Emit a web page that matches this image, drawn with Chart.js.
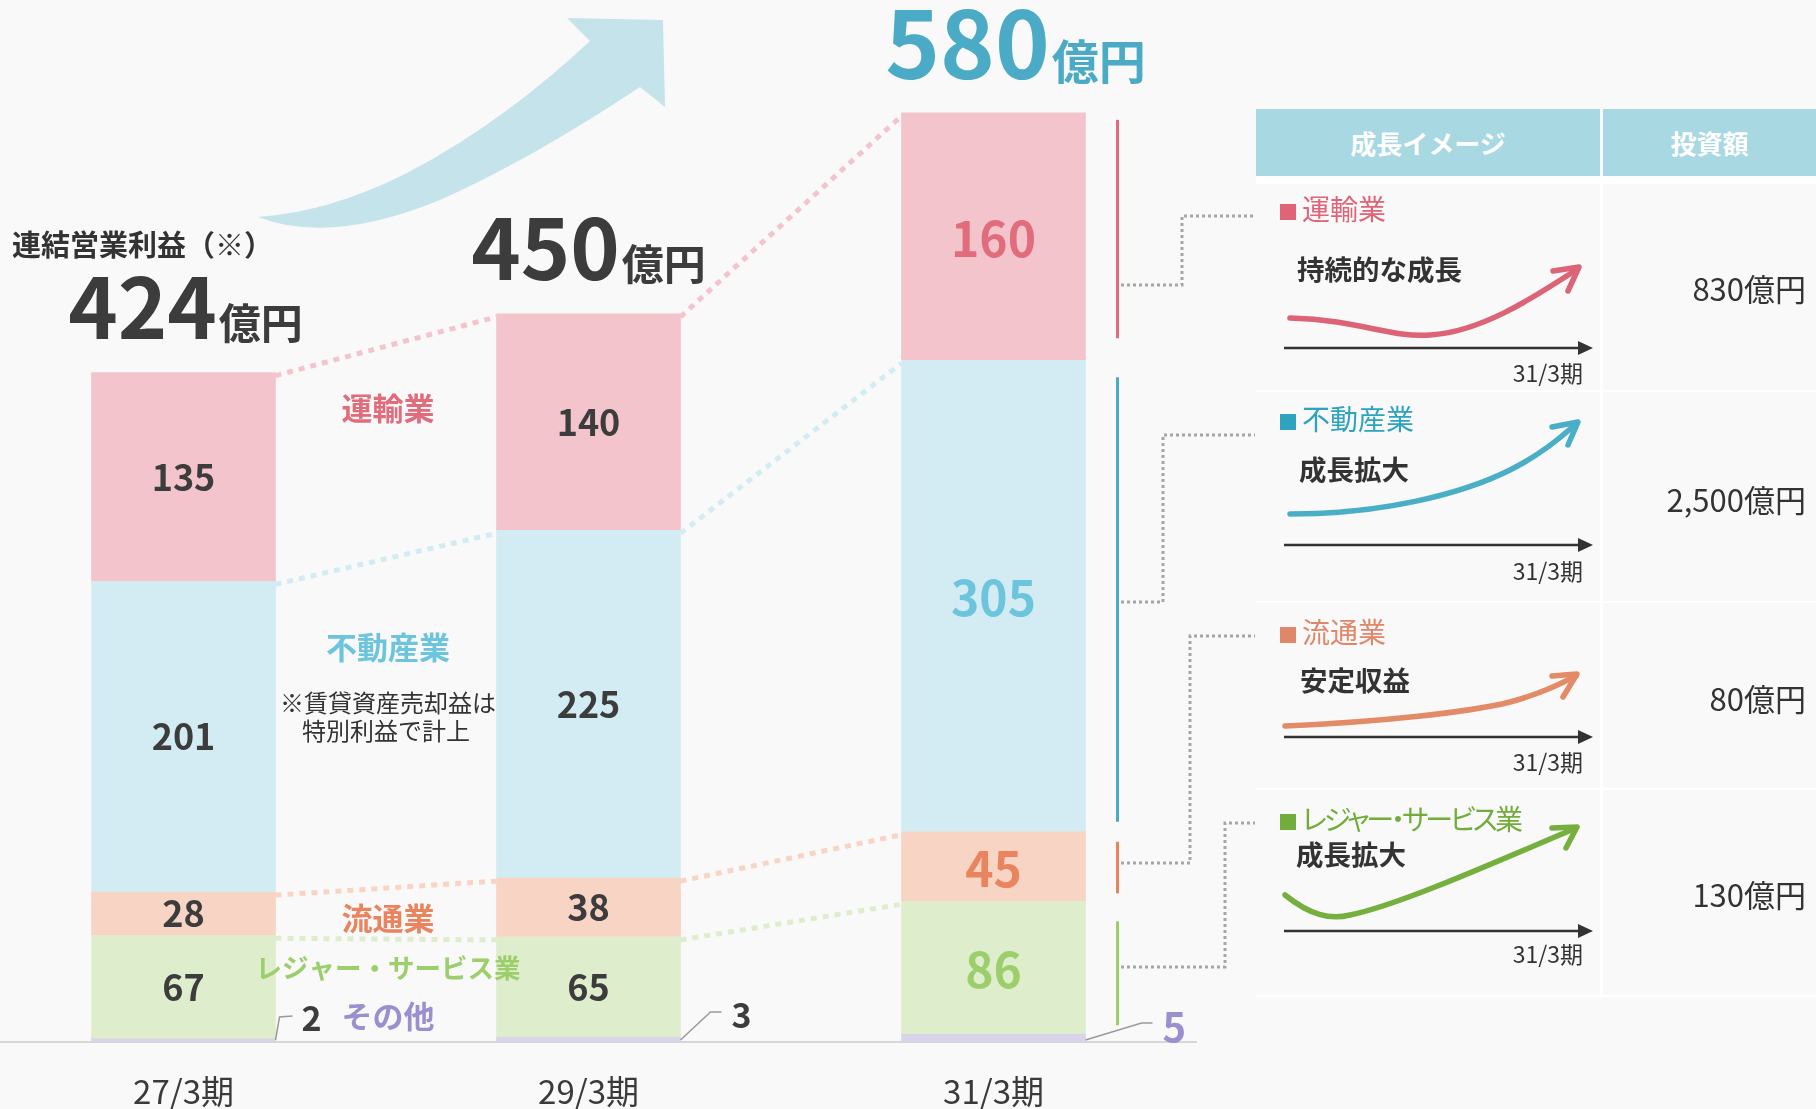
<!DOCTYPE html>
<html lang="ja">
<head>
<meta charset="utf-8">
<title>連結営業利益</title>
<script src="https://cdn.jsdelivr.net/npm/chart.js@4.4.1/dist/chart.umd.min.js"></script>
<style>
  html, body { margin: 0; padding: 0; background: #f9f9f9; }
  body { width: 1816px; height: 1109px; position: relative; overflow: hidden;
         font-family: "Noto Sans CJK JP", "Noto Sans", sans-serif; color: #333; }
  #chart { position: absolute; left: 0; top: 0; }
  #deco { position: absolute; left: 0; top: 0; pointer-events: none; }
  .abs { position: absolute; white-space: nowrap; }
  .mid { transform: translateY(-50%); }
  .head { background: #a8d8e2; color: #fff; font-weight: bold; font-size: 26px;
          text-align: center; line-height: 67px; height: 67px; top: 109px; }
  .sep { background: #fff; }
  .rowname { font-size: 28px; left: 1280px; font-feature-settings: "palt"; }
  .rowname i { display: inline-block; width: 16px; height: 16px; margin-right: 6px; vertical-align: 0px; }
  .growth { font-size: 27.5px; font-weight: bold; }
  .amount { font-size: 31px; right: 10px; }
  .period { font-size: 23px; right: 233px; }
</style>
</head>
<body>
<canvas id="chart" width="1816" height="1109"></canvas>
<svg id="deco" width="1816" height="1109" viewBox="0 0 1816 1109"></svg>
<div id="table"></div>
<script>
// ---- data ----
const categories = ['27/3期', '29/3期', '31/3期'];
const totals = [424, 450, 580];
const others = [2, 3, 5];
const leisure = [67, 65, 86];
const retail = [28, 38, 45];
const realEstate = [201, 225, 305];
const transport = [135, 140, 160];
const segments = ['その他', 'レジャー・サービス業', '流通業', '不動産業', '運輸業'];
const tableHeaders = ['成長イメージ', '投資額'];
const growthImages = ['持続的な成長', '成長拡大', '安定収益', '成長拡大'];
const investments = ['830億円', '2,500億円', '80億円', '130億円'];

// ---- styles ----
const FONT = '"Noto Sans CJK JP", "Noto Sans", sans-serif';
const series = [others, leisure, retail, realEstate, transport];
const fills = ['#d9d4ea', '#deedcc', '#f8d4c5', '#d3ecf3', '#f4c4cc'];
const strong = ['#9b8fd0', '#9ccf6c', '#e9845f', '#6cc5dc', '#e06c7c'];
const nameY = [1016, 968, 918, 647, 408];
const nameSize = [31, 26.5, 31, 31, 31];

function txt(ctx, s, x, y, font, color, align, base) {
  ctx.font = font;
  ctx.fillStyle = color;
  ctx.textAlign = align || 'center';
  ctx.textBaseline = base || 'middle';
  ctx.fillText(s, x, y);
}

const decor = {
  id: 'decor',
  beforeDatasetsDraw(chart) {
    const ctx = chart.ctx;
    ctx.save();
    ctx.lineWidth = 5;
    ctx.setLineDash([6, 6]);
    // dotted links between segment tops
    for (let d = 1; d < series.length; d++) {
      const bars = chart.getDatasetMeta(d).data;
      ctx.strokeStyle = fills[d];
      for (let i = 0; i < bars.length - 1; i++) {
        const a = bars[i], b = bars[i + 1];
        ctx.beginPath();
        ctx.moveTo(a.x + a.width / 2, a.y + 3);
        ctx.lineTo(b.x - b.width / 2, b.y + 3);
        ctx.stroke();
      }
    }
    ctx.restore();
  },
  afterDatasetsDraw(chart) {
    const ctx = chart.ctx;
    ctx.save();
    const top = chart.getDatasetMeta(series.length - 1).data;

    // values inside the bars
    for (let d = 1; d < series.length; d++) {
      chart.getDatasetMeta(d).data.forEach((el, i) => {
        const cy = (el.y + el.base) / 2;
        if (i < 2) txt(ctx, String(series[d][i]), el.x, cy, 'bold 36px ' + FONT, '#3c3c3c');
        else txt(ctx, String(series[d][i]), el.x, cy + 2, 'bold 48px ' + FONT, strong[d]);
      });
    }

    // "その他" small values with leader lines
    const lead = [[4, -23, 17, -24, 26, -22], [30, -28, 41, -28, 51, -25], [56, -17, 67, -17, 77, -13]];
    chart.getDatasetMeta(0).data.forEach((el, i) => {
      const bx = el.x + el.width / 2, by = el.base - 2, L = lead[i];
      ctx.strokeStyle = '#9a9a9a';
      ctx.lineWidth = 1.5;
      ctx.setLineDash([]);
      ctx.beginPath();
      ctx.moveTo(bx, by);
      ctx.lineTo(bx + L[0], by + L[1]);
      ctx.lineTo(bx + L[2], by + L[3]);
      ctx.stroke();
      if (i < 2) txt(ctx, String(others[i]), bx + L[4], by + L[5], 'bold 34px ' + FONT, '#3c3c3c', 'left');
      else txt(ctx, String(others[i]), bx + L[4], by + L[5], 'bold 40px ' + FONT, strong[0], 'left');
    });

    // totals above the stacks
    const shift = [2, 0, 22];
    top.forEach((el, i) => {
      const big = i === 2;
      const nf = 'bold ' + (big ? 93 : 84) + 'px ' + FONT;
      const uf = 'bold ' + (big ? 47 : 42) + 'px ' + FONT;
      ctx.font = nf;
      const wn = ctx.measureText(String(totals[i])).width;
      ctx.font = uf;
      const wu = ctx.measureText('億円').width;
      const x0 = el.x + shift[i] - (wn + wu + 2) / 2;
      const base = el.y - 34;
      const col = big ? '#4babc6' : '#3c3c3c';
      txt(ctx, String(totals[i]), x0, base, nf, col, 'left', 'alphabetic');
      txt(ctx, '億円', x0 + wn + 2, base, uf, col, 'left', 'alphabetic');
    });
    txt(ctx, '連結営業利益（※）', 12, 245, 'bold 29px ' + FONT, '#333', 'left');

    // segment names between first two bars
    const b0 = top[0], b1 = top[1];
    const midX = (b0.x + b0.width / 2 + b1.x - b1.width / 2) / 2;
    segments.forEach((s, d) => {
      txt(ctx, s, midX + 2, nameY[d], 'bold ' + nameSize[d] + 'px ' + FONT, strong[d]);
    });
    txt(ctx, '※賃貸資産売却益は', midX + 2, 703, '24px ' + FONT, '#333');
    txt(ctx, '特別利益で計上', midX, 731, '24px ' + FONT, '#333');

    // coloured brackets beside the last bar
    const inset = [null, [20, 9], [10, 8], [17, 10], [7, 22]];
    const lineCol = [null, '#9ccf6c', '#e9845f', '#4aaac5', '#e06c7c'];
    for (let d = 1; d < series.length; d++) {
      const el = chart.getDatasetMeta(d).data[2];
      const lx = el.x + el.width / 2 + 32;
      ctx.strokeStyle = lineCol[d];
      ctx.lineWidth = 3;
      ctx.beginPath();
      ctx.moveTo(lx, el.y + inset[d][0]);
      ctx.lineTo(lx, el.base - inset[d][1]);
      ctx.stroke();
    }

    // grey elbow links to the table rows
    const elbows = [[285, 1182, 216], [602, 1163, 435], [863, 1190, 636], [967, 1225, 823]];
    ctx.strokeStyle = '#a6a6a6';
    ctx.lineWidth = 3;
    ctx.setLineDash([3, 3]);
    elbows.forEach(e => {
      ctx.beginPath();
      ctx.moveTo(1121, e[0]);
      ctx.lineTo(e[1], e[0]);
      ctx.lineTo(e[1], e[2]);
      ctx.lineTo(1255, e[2]);
      ctx.stroke();
    });
    ctx.restore();
  }
};

new Chart(document.getElementById('chart'), {
  type: 'bar',
  data: {
    datasets: series.map((vals, d) => ({
      label: segments[d],
      data: vals.map((v, i) => ({ x: i, y: v })),
      backgroundColor: fills[d],
      borderWidth: 0,
      barThickness: 184
    }))
  },
  options: {
    responsive: false,
    animation: false,
    layout: { padding: { left: 0, right: 620, top: 0, bottom: 0 } },
    plugins: { legend: { display: false }, tooltip: { enabled: false } },
    scales: {
      x: {
        type: 'linear',
        stacked: true,
        offset: false,
        min: -0.4531,
        max: 2.5,
        grid: { display: false, drawTicks: false },
        border: { display: true, color: '#d6d6d6', width: 2 },
        afterBuildTicks: s => { s.ticks = categories.map((c, i) => ({ value: i })); },
        afterFit: s => { s.height = 67; },
        ticks: {
          padding: 30,
          autoSkip: false,
          maxRotation: 0,
          color: '#3a3a3a',
          font: { family: FONT, size: 33 },
          callback: v => categories[v] ?? ''
        }
      },
      y: { stacked: true, display: false, min: 0, max: 674 }
    }
  },
  plugins: [decor]
});

// ---- right-hand table ----
const tbl = document.getElementById('table');
function add(cls, html, style) {
  const el = document.createElement('div');
  el.className = 'abs ' + cls;
  el.innerHTML = html;
  Object.assign(el.style, style);
  tbl.appendChild(el);
  return el;
}
add('head', tableHeaders[0], { left: '1256px', width: '344px' });
add('head', tableHeaders[1], { left: '1603px', width: '213px' });
add('sep', '', { left: '1256px', top: '176px', width: '560px', height: '8px' });
add('sep', '', { left: '1600px', top: '176px', width: '3px', height: '820px' });
[391, 602, 789, 996].forEach(y => add('sep', '', { left: '1256px', top: (y - 1) + 'px', width: '560px', height: '2px' }));

const rowSeg = [4, 3, 2, 1];
const rowCol = ['#e06478', '#2ea3be', '#e0876a', '#72ad3c'];
const rowSpacing = ['0px', '0px', '0px', '-3px'];
const nameRowY = [208, 418, 631, 818];
const growthX = [1297, 1299, 1300, 1296];
const growthY = [268, 468, 679, 853];
const amountY = [287, 498, 697, 893];
const periodY = [372, 570, 761, 953];
const axisY = [348, 545, 737, 931];
rowSeg.forEach((d, r) => {
  add('rowname mid', '<i style="background:' + rowCol[r] + '"></i>' + segments[d],
      { top: nameRowY[r] + 'px', color: rowCol[r], letterSpacing: rowSpacing[r] });
  add('growth mid', growthImages[r], { left: growthX[r] + 'px', top: growthY[r] + 'px' });
  add('amount mid', investments[r], { top: amountY[r] + 'px' });
  add('period mid', categories[2], { top: periodY[r] + 'px' });
});

// ---- decorative arrows (svg) ----
const curves = [
  'M1290,318 C1360,320 1390,338 1430,335 C1480,332 1530,300 1576,270',
  'M1290,514 C1380,514 1460,495 1510,470 C1540,455 1560,438 1576,424',
  'M1285,726 C1380,722 1470,712 1510,702 C1540,694 1560,684 1576,676',
  'M1285,895 C1310,915 1330,920 1350,915 C1400,905 1500,860 1576,828'
];
const heads = [
  'M1553,271 L1579,267 L1568,291',
  'M1552,427 L1578,422 L1568,445',
  'M1552,676 L1577,674 L1563,697',
  'M1552,828 L1577,827 L1566,848'
];
const curveCol = ['#dc6476', '#4aaec7', '#e38a66', '#75b03e'];
let svg = '<path d="M258,217 Q330,245 440,200 Q530,160 640,87 L665,107 L663,20 L567,18 L590,41 ' +
          'Q500,125 407,173 Q330,212 258,217 Z" fill="#c5e3ea"/>';
curves.forEach((c, r) => {
  svg += '<path d="' + c + '" fill="none" stroke="' + curveCol[r] + '" stroke-width="5.5" stroke-linecap="round"/>';
  svg += '<path d="' + heads[r] + '" fill="none" stroke="' + curveCol[r] + '" stroke-width="5.5" stroke-linecap="round" stroke-linejoin="round"/>';
  const y = axisY[r];
  svg += '<line x1="1284" y1="' + y + '" x2="1580" y2="' + y + '" stroke="#333" stroke-width="2.5"/>';
  svg += '<path d="M1578,' + (y - 7) + ' L1593,' + y + ' L1578,' + (y + 7) + ' Z" fill="#333"/>';
});
document.getElementById('deco').innerHTML = svg;
</script>
</body>
</html>
